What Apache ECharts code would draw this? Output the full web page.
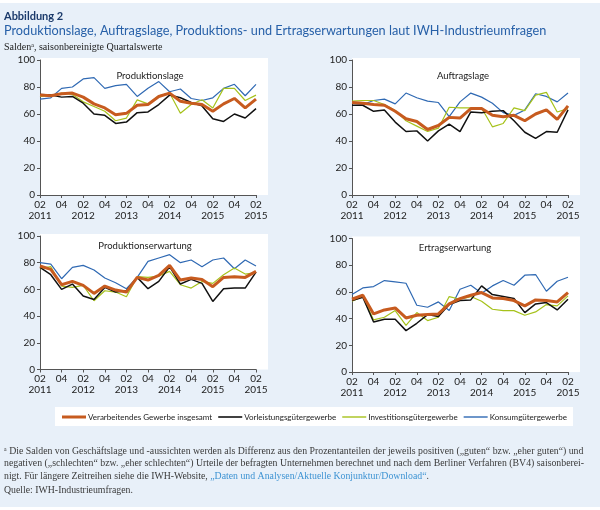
<!DOCTYPE html>
<html><head><meta charset="utf-8">
<script src="https://cdn.jsdelivr.net/npm/echarts@6/dist/echarts.min.js"></script>
<style>html,body{margin:0;padding:0;background:#fff}#c{width:600px;height:510px}</style>
</head><body><div id="c"></div>
<script>
// Quarter tick labels (every second one is shown)
const quarters = ["02\n2011","03","04","01","02\n2012","03","04","01","02\n2013","03","04","01","02\n2014","03","04","01","02\n2015","03","04","01","02\n2015"];
const seriesNames = ["Verarbeitendes Gewerbe insgesamt","Vorleistungsgütergewerbe","Investitionsgütergewerbe","Konsumgütergewerbe"];
const panelTitles = ["Produktionslage","Auftragslage","Produktionserwartung","Ertragserwartung"];

// Produktionslage
const verarb1 = [74,73.5,75,75.5,72.5,67.5,64.5,59.5,60.5,66.5,67,73,75.5,69.5,68,67,62,67.5,71.5,64.5,71];
const vorl1   = [74.5,74,72.5,73,68,60,59,53,54,61,61.5,67,74,72,68.5,66,56.5,54.5,60,57,64];
const invest1 = [73,73.5,75.5,74.5,69,65.5,62,55,57,70.5,67.5,73.5,75.5,60.5,67,70.5,64.5,79,79,70,74];
const konsum1 = [71,72,79,80,86,87,79,81,82,73,79,84,76.5,78.5,71.5,70,72,79,82,73.5,82];
// Auftragslage
const verarb2 = [68.5,68,67,66.5,62,56.5,54.5,48.5,51.5,57.5,57,64,64,59,58,59,55,60,63,56,66];
const vorl2   = [66.5,66.5,62,63,54,47,47.5,40,47.5,52.5,47,61.5,61,62,62.5,55,46.5,42,47,46.5,63];
const invest2 = [69.5,70,70,67,62.5,55,51,47,49.5,65,64.5,64.5,64.5,50.5,53,64.5,62.5,74,76,61.5,64];
const konsum2 = [68,67,70,71,67.5,75.5,72,69.5,68.5,58,69,75.5,72.5,68,61,59,63,75,73,69,75.5];
// Produktionserwartung
const verarb3 = [77.5,75,63.5,66,63,57,62.5,59.5,58,69,67,70.5,78,67,68.5,67.5,62,69,69.5,69,73.5];
const vorl3   = [76.5,71,60,64,55,52.5,61.5,58,59,69,60.5,66,77,64,67.5,64.5,51,60.5,61,61,73];
const invest3 = [75.5,77,62.5,61.5,63,51.5,59,58,54.5,69.5,69,70,73.5,63.5,61,66,64.5,71,76,71.5,72.5];
const konsum3 = [80,79,68,76.5,78,74.5,68.5,65,60.5,69,81,83.5,86,80,82,77,82,83.5,75.5,82,77.5];
// Ertragserwartung
const verarb4 = [54.5,57.5,43.5,46.5,48,40.5,42.5,43,43.5,51,55,57.5,59.5,55.5,55,53.5,49.5,54,53.5,52.5,59.5];
const vorl4   = [53.5,56,37.5,39.5,39.5,31,36.5,43,41.5,50.5,53.5,54,64.5,58,56.5,55,44.5,51,52,46.5,54.5];
const invest4 = [53,56.5,39,41,46,35,44.5,38.5,41,56.5,54.5,56.5,53,47,46,46,42.5,45,50.5,49.5,57];
const konsum4 = [58,63,64,68.5,67.5,66.5,50,48.5,52.5,46,62,65,59,64.5,68.5,65,72.5,73,60.5,68,71];

const panels = [
  [verarb1, vorl1, invest1, konsum1],
  [verarb2, vorl2, invest2, konsum2],
  [verarb3, vorl3, invest3, konsum3],
  [verarb4, vorl4, invest4, konsum4]
];
const colors = ["#c75b1f","#111111","#a6c21b","#2f69b3"];
const widths = [3,1.5,1.2,1.2];
const legendIcons = ['path://M0 0H24V3H0Z','path://M0 0H24V1.6H0Z','path://M0 0H24V1.4H0Z','path://M0 0H24V1.4H0Z'];

const grids = [
  {left:40, top:60, width:216, height:135},
  {left:352, top:60, width:216, height:135},
  {left:40, top:236, width:216, height:133.5},
  {left:352, top:238.5, width:216, height:133.5}
];
const titlePos = [[150,76],[463,76],[145,246],[455,248]];

const xAxes = [], yAxes = [], series = [], graphics = [];
graphics.push({type:'rect', shape:{x:0,y:0,width:600,height:3}, style:{fill:'#fff'}, z:-1, silent:true});
graphics.push({type:'rect', shape:{x:0,y:507,width:600,height:3}, style:{fill:'#fff'}, z:-1, silent:true});
grids.forEach((g,i)=>{
  graphics.push({type:'rect', shape:{x:g.left, y:g.top-2, width:228, height:g.height+2}, style:{fill:'#fff'}, z:-1, silent:true});
  graphics.push({type:'text', x:titlePos[i][0], y:titlePos[i][1], style:{text:panelTitles[i], font:'9.5px Lato, sans-serif', fill:'#222', textAlign:'center', textVerticalAlign:'middle'}, z:5});
  xAxes.push({type:'category', gridIndex:i, data:quarters, boundaryGap:false,
    axisLine:{lineStyle:{color:'#555', width:1}},
    axisTick:{show:true, interval:1, length:3, lineStyle:{color:'#555'}},
    axisLabel:{interval:1, fontSize:10, lineHeight:11, color:'#222', margin:4, fontFamily:'Lato, sans-serif'},
    splitLine:{show:false}});
  yAxes.push({type:'value', gridIndex:i, min:0, max:100, interval:20,
    axisLine:{show:true, lineStyle:{color:'#555', width:1}},
    axisTick:{show:true, length:3, lineStyle:{color:'#555'}},
    axisLabel:{fontSize:10, color:'#222', margin:5, fontFamily:'Lato, sans-serif'},
    splitLine:{show:false}});
  const order = [3,2,1,0];
  order.forEach(k=>{
    series.push({type:'line', name:seriesNames[k], xAxisIndex:i, yAxisIndex:i, data:panels[i][k],
      symbol:'none', showSymbol:false, animation:false,
      lineStyle:{color:colors[k], width:widths[k]}, itemStyle:{color:colors[k]}, z: 2+(3-k)});
  });
});

// Header / footer texts
graphics.push({type:'text', x:4, y:16, style:{text:'Abbildung 2', font:'bold 11px Lato, sans-serif', fill:'#1b3a6b', textVerticalAlign:'middle'}});
graphics.push({type:'text', x:4, y:31, style:{text:'Produktionslage, Auftragslage, Produktions- und Ertragserwartungen laut IWH-Industrieumfragen', font:'12.7px Lato, sans-serif', fill:'#2760a8', textVerticalAlign:'middle'}});
graphics.push({type:'text', x:4, y:47, style:{text:'Saldenᵃ, saisonbereinigte Quartalswerte', font:'10px "Liberation Serif", serif', fill:'#222', textVerticalAlign:'middle'}});
const foot = '9.8px "Liberation Serif", serif';
graphics.push({type:'text', x:4, y:451.5, style:{text:'ᵃ Die Salden von Geschäftslage und -aussichten werden als Differenz aus den Prozentanteilen der jeweils positiven („guten“ bzw. „eher guten“) und', font:foot, fill:'#3a3a3a', textVerticalAlign:'middle'}});
graphics.push({type:'text', x:4, y:463.5, style:{text:'negativen („schlechten“ bzw. „eher schlechten“) Urteile der befragten Unternehmen berechnet und nach dem Berliner Verfahren (BV4) saisonberei-', font:foot, fill:'#3a3a3a', textVerticalAlign:'middle'}});
graphics.push({type:'text', x:4, y:476, style:{text:'nigt. Für längere Zeitreihen siehe die IWH-Website, {l|„Daten und Analysen/Aktuelle Konjunktur/Download“}.', font:foot, fill:'#3a3a3a', textVerticalAlign:'middle', rich:{l:{fill:'#3d93d3', font:foot}}}});
graphics.push({type:'text', x:4, y:490, style:{text:'Quelle: IWH-Industrieumfragen.', font:foot, fill:'#3a3a3a', textVerticalAlign:'middle'}});

const chart = echarts.init(document.getElementById('c'));
chart.setOption({
  backgroundColor:'#e8f0f9',
  animation:false,
  grid: grids,
  xAxis: xAxes,
  yAxis: yAxes,
  legend:{left:55, top:407, backgroundColor:'#fff', padding:[6,6,5,7], itemGap:6, itemWidth:24, itemHeight:8,
    data: seriesNames.map((n,k)=>({name:n, icon:legendIcons[k]})),
    textStyle:{fontSize:8, color:'#222', fontFamily:'Lato, sans-serif', padding:[0,0,0,-3]}},
  graphic: graphics,
  series: series
});
</script></body></html>
